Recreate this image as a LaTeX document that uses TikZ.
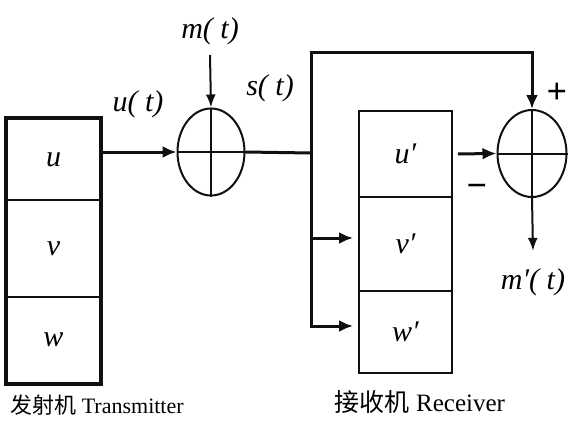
\documentclass[tikz,border=0pt]{standalone}
\usepackage{fontspec}
\setmainfont{Liberation Serif}
\newfontfamily\cjk{Noto Sans CJK SC}
\usepackage{tikz}
\usetikzlibrary{arrows.meta,shapes.geometric}
\definecolor{SigInk}{HTML}{101010}
\newcommand{\biglab}{\fontsize{30}{33}\selectfont\itshape}
\newcommand{\caplab}{\fontsize{22}{25}\selectfont}

\begin{document}
\begin{tikzpicture}[x=1pt,y=-1pt,font=\biglab,>={Latex[length=14pt,width=12pt]},
    cell/.style={draw=SigInk,line width=1.8pt,minimum width=93pt,inner sep=0pt},
    adder/.style={draw=SigInk,line width=2pt,ellipse,inner sep=0pt},
    sig/.style={SigInk,line width=3pt},
    thin sig/.style={SigInk,line width=2pt,>={Latex[length=13pt,width=10pt]}}]
  \useasboundingbox (0,0) rectangle (573,431);
  % transmitter
  \node[cell,minimum height=81pt] (u) at (53.5,159.5) {u};
  \node[cell,minimum height=97pt] (v) at (53.5,248.5) {v};
  \node[cell,minimum height=86pt] (w) at (53.5,340) {w};
  \draw[SigInk,line width=3.4pt] (u.north west) rectangle (w.south east);
  % receiver
  \node[cell,minimum height=86pt] (up) at (405.5,154) {u′};
  \node[cell,minimum height=94pt] (vp) at (405.5,244) {v′};
  \node[cell,minimum height=82pt] (wp) at (405.5,332) {w′};
  % adders
  \node[adder,minimum width=67pt,minimum height=87pt] (add1) at (211,152) {};
  \node[adder,minimum width=69pt,minimum height=87pt] (add2) at (532,153.5) {};
  \foreach \a in {add1,add2}
    \draw[SigInk,line width=2pt] (\a.north) -- (\a.south) (\a.west) -- (\a.east);
  % labels
  \node (mlab) at (210,31) {m( t)};
  \node (ulab) at (138,104) {u( t)};
  \node (slab) at (270,88) {s( t)};
  \node (mplab) at (533,282) {m′( t)};
  \node[font=\fontsize{36}{36}\selectfont\bfseries] (plus) at (557,93) {+};
  \node[font=\fontsize{36}{36}\selectfont\bfseries] (minus) at (477,191) {−};
  \node[font=\caplab] (txlab) at (97,405) {{\cjk 发射机} Transmitter};
  \node[font=\fontsize{25}{28}\selectfont] (rxlab) at (420,402) {{\cjk 接收机} Receiver};
  % signal paths
  \coordinate (j) at (311,153);
  \coordinate (jt) at (311,52);
  \coordinate (vin) at ([yshift=6pt]vp.west);
  \coordinate (win) at ([yshift=6pt]wp.west);
  \draw[thin sig,->] (mlab) ++(0,24) -- (add1.north);
  \draw[sig,->] (u.east |- add1.west) -- (add1.west);
  \draw[sig] (add1.east) -- (j);
  \draw[sig,->] (j) -- (jt) -| (add2.north);
  \draw[sig,->,shorten >=5pt] (jt) |- (win);
  \draw[sig,->,shorten >=5pt] (j |- vin) -- (vin);
  \draw[sig,->,shorten <=5pt] (up.east) -- (add2.west);
  \draw[thin sig,->] (add2.south) -- ([yshift=14pt]mplab.north);
\end{tikzpicture}
\end{document}
